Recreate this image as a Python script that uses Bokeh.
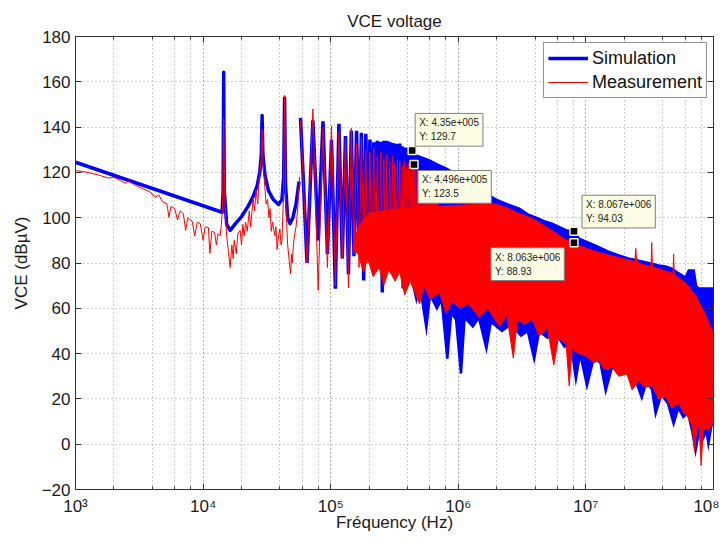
from bokeh.plotting import figure
from bokeh.models import (Label, Legend, LegendItem, LinearAxis, LogAxis, LogTicker,
                          SingleIntervalTicker, Range1d)
from bokeh.embed import file_html
from bokeh.resources import INLINE

# ---------------- data ----------------
# Simulation, low-frequency part (Hz, dBuV) up to the 4th harmonic
blue_low_f = [1000, 14100, 14350, 14500, 14650, 15300, 16300, 18000, 20000, 22500, 24500,
              26500, 27800, 28600, 29000, 29400, 30500, 32500, 35500, 39000, 41500, 42800,
              43500, 44200, 46000, 48000, 50500, 53500, 56500]
blue_low_db = [124.5, 102.4, 112, 164.2, 112, 97, 94.4, 97.5, 100.5, 105, 109,
               114, 120, 128, 145.1, 128, 119, 112, 108, 105.8, 108, 118,
               152.9, 115, 100, 97.4, 100, 106, 116]

# Measurement, low-frequency part
red_low_f = [1000, 1250, 1570, 1800, 2000, 2250, 2450, 2600, 2900, 3300, 3850, 4200, 4500,
             4800, 5200, 5400, 5600, 6000, 6300, 6600, 7000, 7300, 7600, 8200, 8600, 9000,
             9500, 10000, 10400, 11000, 11300, 11700, 12300, 12700, 13100, 13600, 13900,
             14200, 14500, 14800, 15300, 15800, 16300, 16800, 17200, 17500, 18200, 18700,
             19500, 20000, 20500, 21000, 21500, 22200, 23000, 23600, 24700, 25300, 26000,
             26800, 27500, 28500, 29000, 29500, 30500, 31200, 32000, 32800, 33500, 34200,
             35000, 36500, 37200, 38000, 39000, 40000, 40800, 41500, 42700, 43500, 44300,
             46000, 47500, 48500, 49300, 50000, 51000, 52000, 53500, 55000, 57000]
red_low_db = [120.8, 120, 118.6, 117.5, 117.8, 116.4, 115.2, 116.3, 114.5, 113, 111.3, 109, 110,
              107, 106.2, 100.2, 105, 104, 99, 103, 101.8, 94.4, 100, 98.5, 92, 98,
              97.4, 90, 96, 95.7, 84.2, 94, 93.5, 88, 93, 92, 97,
              105, 143.8, 108, 92, 85, 78, 88, 82, 90, 84, 93,
              94.4, 88, 97, 92, 98, 94, 103, 96, 109, 103, 112,
              106, 117, 126, 139, 124, 113, 106, 108, 100, 104, 94,
              98, 92, 96, 86, 92, 95, 88, 90, 110, 154, 108,
              88, 80, 75.2, 84, 80, 88, 92, 96, 103, 118]

# harmonics of the 14.5 kHz switching frequency, n = 4 .. 48 (Hz)
harm_f = [58000, 72500, 87000, 101500, 116000, 130500, 145000, 159500, 174000, 188500,
          203000, 217500, 232000, 246500, 261000, 275500, 290000, 304500, 319000, 333500,
          348000, 362500, 377000, 391500, 406000, 420500, 435000, 449500, 464000, 478500,
          493000, 507500, 522000, 536500, 551000, 565500, 580000, 594500, 609000, 623500,
          638000, 652500, 667000, 681500, 696000]

# Simulation: peak at harmonics n = 4..30, trough after n = 4..29
blue_peak = [144.1, 143.0, 142.6, 134.4, 141.5, 136.0, 138.5, 138.4, 137.5, 137.0,
             134.5, 133.3, 134.0, 133.5, 134.0, 134.0, 133.5, 133.0, 132.8, 132.5,
             132.7, 131.5, 131.0, 131.0, 130.5, 130.0, 129.7]
blue_trough = [80, 90, 84, 68.7, 82, 75, 83, 84, 72.3, 85,
               80, 84, 82, 67, 84, 80, 85, 78, 86, 82,
               80, 68.7, 84, 80, 84, 78]

# Measurement: peak at harmonics n = 4..48, trough after n = 4..47
red_peak = [143, 148, 140, 140.5, 138, 135, 139.5, 133, 135, 130,
            129, 131, 127, 129, 126, 128, 125, 127, 124, 126,
            125, 123, 125, 122, 124, 121, 123, 123.5, 121, 122,
            120, 121, 119, 120, 118, 119, 117, 118, 116, 117,
            115, 116, 114, 115, 113]
red_trough = [80, 68, 78, 70, 82, 69, 84, 78, 86, 80,
              76, 84, 80, 86, 82, 78, 86, 84, 80, 88,
              84, 80, 88, 86, 90, 88, 92, 90, 94, 92,
              95, 93, 96, 94, 97, 95, 98, 96, 98, 97,
              99, 98, 100, 99]

# Simulation, dense part: upper and lower envelope
blue_top_f = [435e3, 470e3, 520e3, 593e3, 680e3, 806e3, 1.0e6, 1.25e6, 1.6e6, 1.98e6, 2.4e6,
              3.0e6, 3.5e6, 4.07e6, 4.7e6, 5.42e6, 6.2e6, 7.1e6, 8.07e6, 8.8e6, 10.5e6,
              12.6e6, 15e6, 18.1e6, 21.5e6, 25.9e6, 31e6, 37.1e6, 42e6, 47e6, 53e6,
              60.4e6, 64e6, 70e6, 73e6, 76e6, 100e6]
blue_top_db = [129.7, 127.4, 126.5, 125.3, 123.5, 121.7, 118.5, 115, 111, 108, 106,
               104, 101.5, 100, 98.5, 97.4, 95.8, 94.3, 94.03, 90.8, 89,
               87, 85, 83.3, 82, 81, 80, 78.9, 78.5, 77.5, 75.5,
               73.6, 76.7, 76.7, 70, 68.7, 68.7]
blue_bot_f = [435e3, 470e3, 500e3, 562e3, 600e3, 680e3, 740e3, 820e3, 880e3, 960e3, 1.05e6,
              1.12e6, 1.3e6, 1.45e6, 1.66e6, 1.8e6, 2.2e6, 2.6e6, 3.1e6, 3.5e6, 3.93e6,
              4.3e6, 5.0e6, 5.8e6, 6.8e6, 7.6e6, 8.35e6, 9.0e6, 10.2e6, 11.5e6, 13e6,
              14.3e6, 16e6, 19e6, 22e6, 25e6, 27.4e6, 30e6, 33e6, 35.2e6, 39e6, 44e6,
              48.7e6, 53e6, 58e6, 63e6, 68e6, 72.3e6, 76e6, 82e6, 88e6, 91.2e6, 96e6, 100e6]
blue_bot_db = [72, 64, 70, 51.5, 66, 60, 64, 37.8, 58, 55, 31.2,
               56, 52, 56, 42.3, 54, 50, 53, 48, 50, 37.8,
               50, 47, 49, 43, 45, 29, 40, 25.9, 38, 36,
               23.7, 34, 31, 33, 27, 20.6, 28, 24, 13.6, 22, 18,
               9.1, 16, 12, 14, 6, -2.8, 4, 2, 6, 0.3, 8, 10]

# Measurement, dense part: upper and lower envelope
red_top_f = [150e3, 165e3, 185e3, 200e3, 300e3, 450e3, 700e3, 1.0e6, 1.5e6, 1.98e6, 2.5e6,
             3.0e6, 3.5e6, 4.07e6, 4.7e6, 5.42e6, 6.2e6, 7.1e6, 8.06e6, 8.8e6, 10.5e6,
             12.6e6, 15e6, 18.1e6, 21.5e6, 24.2e6, 24.6e6, 25.0e6, 28e6, 32.4e6, 32.8e6,
             33.2e6, 37.1e6, 42e6, 48.2e6, 48.7e6, 49.2e6, 53e6, 60.4e6, 66e6, 72.5e6,
             79e6, 85.6e6, 93e6, 100e6]
red_top_db = [88, 96, 100, 102, 103.5, 104.5, 105, 105.5, 106, 106, 104,
              101.8, 100.5, 98.8, 96.5, 94.3, 92.2, 90, 88.93, 87.7, 86.2,
              84.7, 83.5, 82.4, 81.3, 80.6, 86.4, 80.4, 79.3, 78.4, 89,
              78.2, 77.5, 76.5, 75.3, 84, 75.1, 73.5, 71.3, 68.5, 65.6,
              61.5, 57.7, 53, 48.9]
red_bot_f = [150e3, 165e3, 180e3, 195e3, 215e3, 240e3, 260e3, 285e3, 320e3, 347e3, 380e3,
             420e3, 497e3, 540e3, 600e3, 712e3, 800e3, 900e3, 1.02e6, 1.2e6, 1.46e6, 1.7e6,
             2.1e6, 2.4e6, 2.7e6, 2.9e6, 3.3e6, 3.8e6, 4.3e6, 5.0e6, 5.6e6, 6.1e6, 7.0e6,
             7.4e6, 7.8e6, 8.8e6, 10e6, 11.5e6, 12.6e6, 14e6, 16e6, 18.1e6, 21e6, 23e6,
             25.9e6, 29e6, 33e6, 37.1e6, 42e6, 47e6, 53.6e6, 58e6, 63e6, 68e6, 71e6, 74e6,
             77e6, 80e6, 83e6, 88e6, 91e6, 95e6, 100e6]
red_bot_db = [86, 84, 76, 82, 74, 78, 70, 77, 72, 76, 66,
              72, 62, 70, 64, 67, 58, 63, 60, 62, 56, 60,
              52, 57, 38, 55, 53, 55, 48, 51, 35, 47, 44,
              25.8, 42, 40, 39, 36, 37, 33, 34, 30, 31, 24,
              28, 25, 26, 20, 21, 16, 18, 14, 12, 8, -3, 7,
              9, -9.4, 6, 7, 6, 8, 10]

# data tips: (frequency, value, text)
tip_f = [4.35e5, 4.496e5, 8.067e6, 8.063e6]
tip_db = [129.7, 123.5, 94.03, 88.93]
tip_text = ["X: 4.35e+005\nY: 129.7", "X: 4.496e+005\nY: 123.5",
            "X: 8.067e+006\nY: 94.03", "X: 8.063e+006\nY: 88.93"]

x_tick_labels = {1e3: "10³", 1e4: "10⁴", 1e5: "10⁵", 1e6: "10⁶", 1e7: "10⁷", 1e8: "10⁸"}

# ---------------- build series ----------------
def harmonic_line(freqs, peaks, troughs):
    xs, ys = [], []
    for i, pk in enumerate(peaks):
        xs.append(freqs[i]); ys.append(pk)
        if i < len(troughs):
            xs.append((freqs[i] + freqs[i + 1]) / 2.0); ys.append(troughs[i])
    return xs, ys

bh_f, bh_db = harmonic_line(harm_f, blue_peak, blue_trough)
rh_f, rh_db = harmonic_line(harm_f, red_peak, red_trough)

FONT = "Liberation Sans"
BLUE = "#0000ff"
RED = "#ff0000"

p = figure(width=719, height=535, x_axis_type="log",
           x_range=Range1d(1e3, 1e8), y_range=Range1d(-20, 180),
           output_backend="svg", toolbar_location=None,
           min_border_left=75, min_border_right=6, min_border_top=36, min_border_bottom=46,
           title="VCE voltage")
p.title.align = "center"
p.title.text_font = FONT
p.title.text_font_size = "17px"
p.title.text_font_style = "normal"
p.title.text_color = "#1a1a1a"
p.title.standoff = 12
p.outline_line_color = "#333333"
p.background_fill_color = "white"
p.border_fill_color = "white"

# simulation
b1 = p.line(blue_low_f, blue_low_db, line_color=BLUE, line_width=3.5, line_join="round")
p.line(bh_f, bh_db, line_color=BLUE, line_width=3.5, line_join="miter")
p.patch(blue_top_f + blue_bot_f[::-1], blue_top_db + blue_bot_db[::-1],
        fill_color=BLUE, line_color=BLUE, line_width=2.5, line_join="miter")

# measurement
r1 = p.line(red_low_f, red_low_db, line_color=RED, line_width=1)
p.patch(red_top_f + red_bot_f[::-1], red_top_db + red_bot_db[::-1],
        fill_color=RED, line_color=RED, line_width=1)
p.line(rh_f, rh_db, line_color=RED, line_width=1)

# axes styling
for ax in (p.xaxis[0], p.yaxis[0]):
    ax.axis_line_color = "#333333"
    ax.major_tick_line_color = "#333333"
    ax.minor_tick_line_color = "#333333"
    ax.major_tick_in = 6
    ax.major_tick_out = 0
    ax.minor_tick_in = 3
    ax.minor_tick_out = 0
    ax.major_label_text_font = FONT
    ax.major_label_text_font_size = "17px"
    ax.major_label_text_color = "#1a1a1a"
    ax.axis_label_text_font = FONT
    ax.axis_label_text_font_size = "17px"
    ax.axis_label_text_font_style = "normal"
    ax.axis_label_text_color = "#1a1a1a"

p.xaxis.ticker = LogTicker(desired_num_ticks=6)
p.xaxis.major_label_overrides = x_tick_labels
p.xaxis.major_label_standoff = 7
p.xaxis.axis_label = "Fréquency (Hz)"
p.xaxis.axis_label_standoff = -6
p.yaxis.ticker = SingleIntervalTicker(interval=20, num_minor_ticks=0)
p.yaxis.axis_label = "VCE (dBµV)"
p.yaxis.axis_label_standoff = 8

top_ax = LogAxis(ticker=LogTicker(desired_num_ticks=6))
right_ax = LinearAxis(ticker=SingleIntervalTicker(interval=20, num_minor_ticks=0))
for ax in (top_ax, right_ax):
    ax.major_label_text_font_size = "1px"
    ax.major_label_text_alpha = 0
    ax.major_label_standoff = 0
    ax.axis_line_color = "#333333"
    ax.major_tick_line_color = "#333333"
    ax.minor_tick_line_color = "#333333"
    ax.major_tick_in = 6
    ax.major_tick_out = 0
    ax.minor_tick_in = 3
    ax.minor_tick_out = 0
p.add_layout(top_ax, "above")
p.add_layout(right_ax, "right")

# grid
p.xgrid.grid_line_color = "#9a9a9a"
p.xgrid.grid_line_dash = "1 3"
p.xgrid.minor_grid_line_color = "#9a9a9a"
p.xgrid.minor_grid_line_dash = "1 3"
p.ygrid.grid_line_color = "#9a9a9a"
p.ygrid.grid_line_dash = "1 3"
p.xgrid.level = "underlay"
p.ygrid.level = "underlay"

# data tips
p.scatter(tip_f, tip_db, marker="square", size=8, fill_color="black",
          line_color="#f4f4dc", line_width=1.5)
tip_dx = [3, 4, 8, -83]
tip_dy = [37, -6, 36, -5]
for f, v, t, dx, dy in zip(tip_f, tip_db, tip_text, tip_dx, tip_dy):
    p.add_layout(Label(x=f, y=v, x_offset=dx, y_offset=dy, text=t,
                       text_font=FONT, text_font_size="10px", text_color="#222222",
                       text_align="left", text_baseline="top", text_line_height=1.25,
                       background_fill_color="#fcfce4", border_line_color="#808080",
                       border_line_width=1, padding=4))

# legend
legend = Legend(items=[LegendItem(label="Simulation", renderers=[b1]),
                       LegendItem(label="Measurement", renderers=[r1])],
                location="top_right", margin=6, padding=4, spacing=2,
                label_height=22, glyph_height=22, glyph_width=40, label_standoff=4,
                label_text_font=FONT, label_text_font_size="18px", label_text_color="#111111",
                border_line_color="#222222", border_line_width=1,
                background_fill_color="white", background_fill_alpha=1)
p.add_layout(legend)

open("out.html", "w").write(file_html(p, INLINE))
